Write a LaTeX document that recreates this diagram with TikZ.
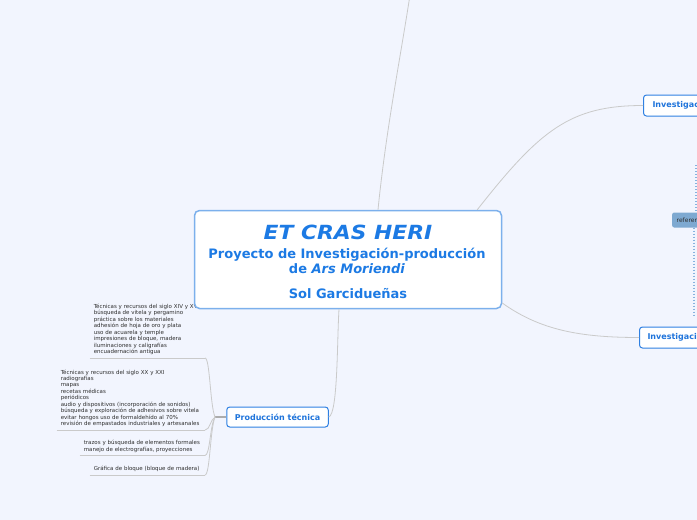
\documentclass[tikz,border=0pt]{standalone}
\usepackage{fontspec}
\usepackage{graphicx}
\setmainfont{DejaVu Sans}
\usetikzlibrary{calc}
\definecolor{bgcol}{HTML}{F2F5FE}
\definecolor{mainblue}{HTML}{1C7AE4}
\definecolor{mainborder}{HTML}{7CB0EC}
\definecolor{topicborder}{HTML}{2F80E2}
\definecolor{topictext}{HTML}{1F74DB}
\definecolor{conncol}{HTML}{CACACA}
\definecolor{leaftext}{HTML}{2E2E2E}
\definecolor{reffill}{HTML}{7EA9D1}
\definecolor{dotcol}{HTML}{86B2DE}
\tikzset{
 conn/.style={draw=conncol, line width=0.8pt},
 topic/.style={draw=topicborder, fill=white, rounded corners=3pt, line width=1pt, minimum height=20pt, inner xsep=8pt, inner ysep=0pt, font=\fontsize{8}{9}\selectfont\bfseries, text=topictext},
 leaf/.style={anchor=south east, align=left, inner xsep=4pt, inner ysep=3pt, font=\fontsize{5.5}{6.45}\selectfont, text=leaftext},
 underl/.style={draw=conncol, line width=0.8pt},
 titletext/.style={text=mainblue, inner sep=0pt, anchor=base},
 dotline/.style={draw=dotcol, line width=1.2pt, dash pattern=on 1.2pt off 1.8pt},
}
\begin{document}
\begin{tikzpicture}[x=1pt,y=-1pt]
\fill[bgcol] (0,0) rectangle (697,520);
\useasboundingbox (0,0) rectangle (697,520);
\clip (0,0) rectangle (697,520);

% leaf nodes
\node[leaf, text width=107pt] (c1) at (205,358) {Técnicas y recursos del siglo XIV y XV\\búsqueda de vitela y pergamino\\práctica sobre los materiales\\adhesión de hoja de oro y plata\\uso de acuarela y temple\\impresiones de bloque, madera\\iluminaciones y caligrafías\\encuadernación antigua};
\node[leaf, text width=140pt] (c2) at (205,430) {Técnicas y recursos del siglo XX y XXI\\radiografías\\mapas\\recetas médicas\\periódicos\\audio y dispositivos (incorporación de sonidos)\\búsqueda y exploración de adhesivos sobre vitela\\evitar hongos uso de formaldehído al 70\%\\revisión de empastados industriales y artesanales};
\node[leaf, text width=117pt] (c3) at (205,455.5) {trazos y búsqueda de elementos formales\\manejo de electrografías, proyecciones};
\node[leaf, text width=107pt] (c4) at (205,475) {Gráfica de bloque (bloque de madera)};
\draw[underl] (c1.south west) -- (c1.south east);
\draw[underl] (c2.south west) -- (c2.south east);
\draw[underl] (c3.south west) -- (c3.south east);
\draw[underl] (c4.south west) -- (c4.south east);

% central node
\node[draw=mainborder, fill=white, line width=1.5pt, rounded corners=5pt, minimum width=307pt, minimum height=98pt, inner sep=0pt] (central) at (348,259.5) {};
\node[titletext, font=\fontsize{19.5}{24}\selectfont\bfseries\itshape] (t1) at (348,239.7) {\scalebox{1.12}[1]{ET CRAS HERI}};
\node[titletext, font=\fontsize{13}{15}\selectfont\bfseries] (t2) at (347,258.5) {Proyecto de Investigación-producción};
\node[titletext, font=\fontsize{13}{15}\selectfont\bfseries] (t3) at (347,273.3) {de \textit{Ars Moriendi}};
\node[titletext, font=\fontsize{13}{15}\selectfont\bfseries] (t4) at (348,298.3) {Sol Garcidueñas};

% topics
\node[topic] (prod) at (277.5,417) {Producción técnica};
\node[topic, anchor=west, minimum height=21pt, inner xsep=9pt] (inv1) at (643,105.5) {Investigación};
\node[topic, anchor=west, minimum height=21pt] (inv2) at (639,337.5) {Investigación};
\node[fill=reffill, rounded corners=2pt, anchor=west, minimum height=15pt, inner xsep=4.5pt, inner ysep=0pt, font=\fontsize{6}{7}\selectfont, text=leaftext] (ref) at (672,220) {referencias};

% dotted links
\coordinate (dtop) at (696,165);
\coordinate (dbot) at (694,316);
\draw[dotline] (dtop) -- (dtop |- ref.north);
\draw[dotline] (dbot |- ref.south) -- (dbot);

% connectors
\coordinate (topend) at (410,-5);
\draw[conn] ($(central.north)+(30,0)$) .. controls (386,130) and (400,60) .. (topend);
\draw[conn] ($(central.north east)+(-25,0)$) .. controls (540,130) and (570,105.5) .. (inv1.west);
\draw[conn] ($(central.east)+(0,43.5)$) .. controls (540,330) and (580,337.5) .. (inv2.west);
\draw[conn] (prod.east) .. controls (338,414) and (337,340) .. ($(central.south)+(-9,0)$);

\coordinate (J) at (215,417);
\draw[draw=conncol!85!black, line width=1.2pt] (prod.west) -- (J);
\draw[conn] (J) .. controls (210,405) and (210,358) .. (c1.south east);
\draw[conn] (J) .. controls (210,420) and (210,430) .. (c2.south east);
\draw[conn] (J) .. controls (210,425) and (210,455.5) .. (c3.south east);
\draw[conn] (J) .. controls (210,430) and (210,475) .. (c4.south east);
\end{tikzpicture}
\end{document}
